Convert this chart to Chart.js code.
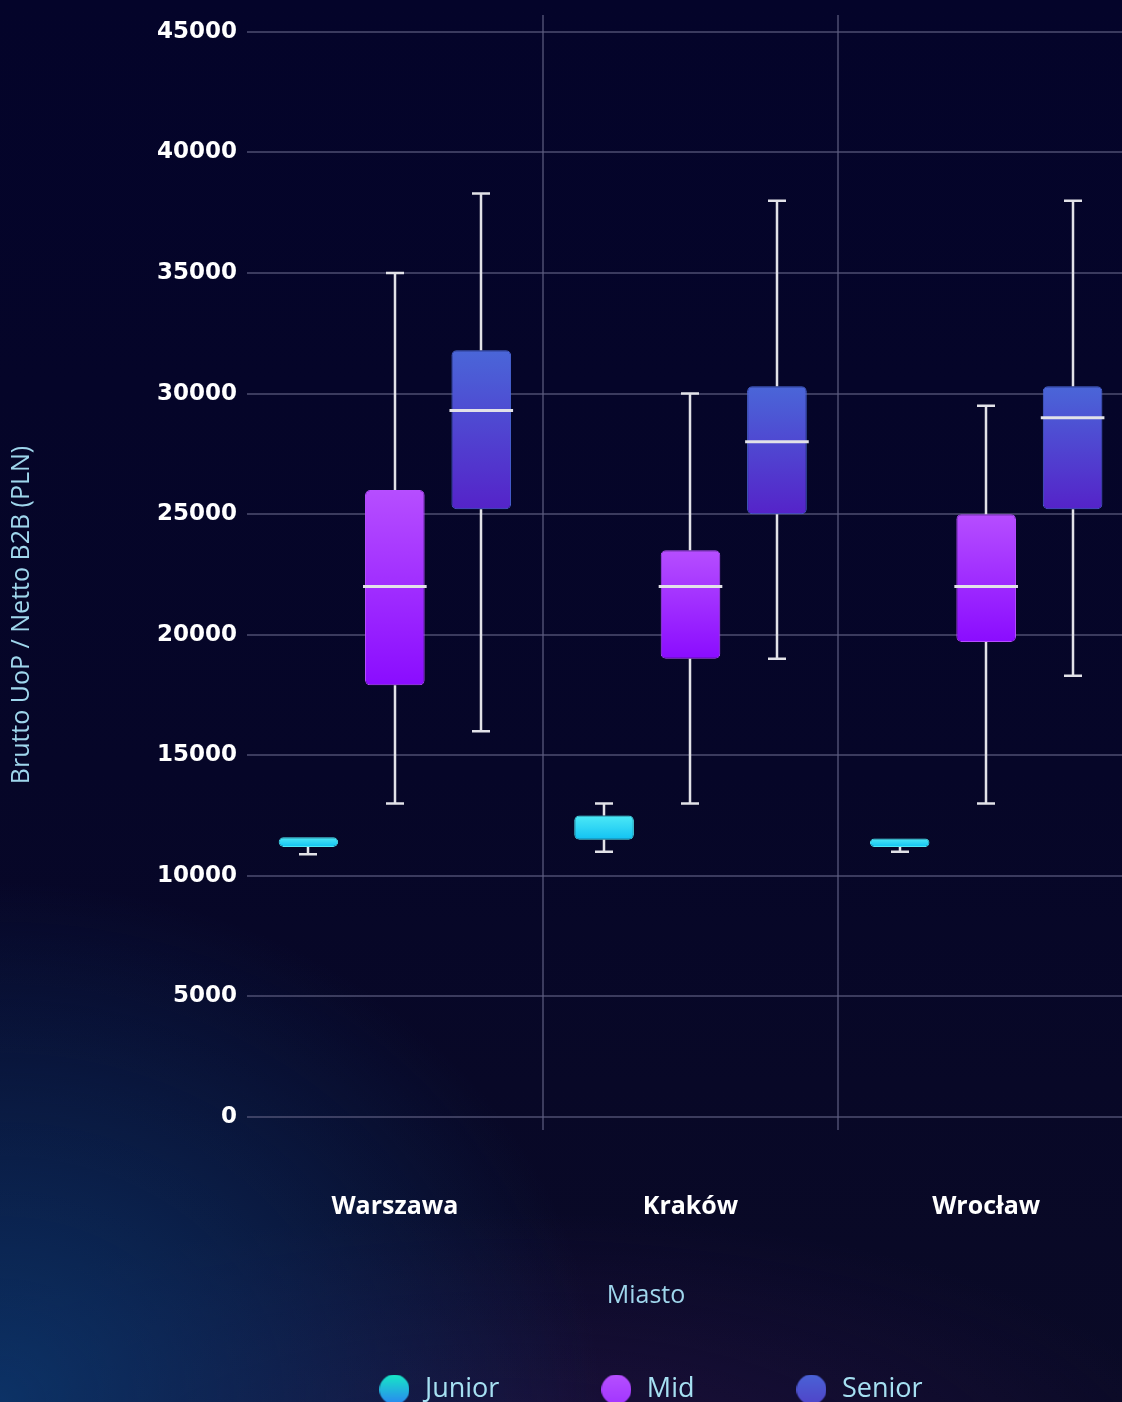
<!DOCTYPE html>
<html lang="pl">
<head>
<meta charset="utf-8">
<title>Wynagrodzenia wg miasta i poziomu</title>
<script src="https://cdn.jsdelivr.net/npm/chart.js@4.4.1/dist/chart.umd.min.js"></script>
<style>
    html, body {
        margin: 0;
        width: 1122px;
        height: 1402px;
        overflow: hidden;
    }
    body {
        background-color: #050526;
        background-image:
            radial-gradient(ellipse 600px 520px at 0% 100%, rgba(12, 52, 105, 0.95), rgba(12, 52, 105, 0) 100%),
            radial-gradient(ellipse 700px 260px at 45% 105%, rgba(45, 22, 80, 0.55), rgba(45, 22, 80, 0) 100%),
            linear-gradient(180deg, #04042a 0%, #060628 55%, #0a0a26 100%);
    }
    #wrap {
        position: absolute;
        left: 0;
        top: 0;
    }
</style>
</head>
<body>
<div id="wrap"><canvas id="salaryChart" width="1140" height="1413"></canvas></div>
<script>
// categories and tick labels
const cities = ['Warszawa', 'Kraków', 'Wrocław'];
const levels = ['Junior', 'Mid', 'Senior'];
const yTickValues = [0, 5000, 10000, 15000, 20000, 25000, 30000, 35000, 40000, 45000];
const yTitle = 'Brutto UoP / Netto B2B (PLN)';
const xTitle = 'Miasto';

// box statistics per level, one value per city
const juniorMin = [10900, 11000, 11000];
const juniorQ1 = [11200, 11500, 11200];
const juniorMedian = [null, null, null];
const juniorQ3 = [11600, 12500, 11550];
const juniorMax = [11600, 13000, 11550];

const midMin = [13000, 13000, 13000];
const midQ1 = [17900, 19000, 19700];
const midMedian = [22000, 22000, 22000];
const midQ3 = [26000, 23500, 25000];
const midMax = [35000, 30000, 29500];

const seniorMin = [16000, 19000, 18300];
const seniorQ1 = [25200, 25000, 25200];
const seniorMedian = [29300, 28000, 29000];
const seniorQ3 = [31800, 30300, 30300];
const seniorMax = [38300, 38000, 38000];

// colours: [top, bottom] of each box gradient
const boxColors = {
    Junior: ['#4de9f6', '#12c2f3'],
    Mid: ['#b64eff', '#8a0cff'],
    Senior: ['#4a66d8', '#5523c9']
};
const legendColors = {
    Junior: ['#17e8c6', '#2a86f2'],
    Mid: ['#b650ff', '#a235ff'],
    Senior: ['#4a62d6', '#5044c9']
};
const whiskerColor = '#e2e2e8';
const titleColor = '#9fd6ec';

function boxFill(context, level) {
    const chart = context.chart;
    const colors = boxColors[level];
    if (!chart.chartArea || !Array.isArray(context.raw)) {
        return colors[0];
    }
    const y = chart.scales.y;
    const top = y.getPixelForValue(context.raw[1]);
    const bottom = y.getPixelForValue(context.raw[0]);
    const g = chart.ctx.createLinearGradient(0, top, 0, bottom);
    g.addColorStop(0, colors[0]);
    g.addColorStop(1, colors[1]);
    return g;
}

function legendDot(level) {
    const c = document.createElement('canvas');
    c.width = 30;
    c.height = 30;
    const cx = c.getContext('2d');
    const g = cx.createLinearGradient(0, 0, 0, 30);
    g.addColorStop(0, legendColors[level][0]);
    g.addColorStop(1, legendColors[level][1]);
    cx.fillStyle = g;
    cx.beginPath();
    cx.arc(15, 15, 15, 0, Math.PI * 2);
    cx.fill();
    return c;
}

function makeDataset(level, mins, q1s, medians, q3s, maxs) {
    return {
        label: level,
        data: q1s.map((q1, i) => [q1, q3s[i]]),
        whiskerMin: mins,
        whiskerMax: maxs,
        medians: medians,
        backgroundColor: ctx => boxFill(ctx, level),
        borderColor: boxColors[level][0],
        borderWidth: 1,
        borderRadius: 5,
        borderSkipped: false,
        categoryPercentage: 0.877,
        barPercentage: 0.69
    };
}

// whiskers and median lines on top of the floating bars
const boxWhiskers = {
    id: 'boxWhiskers',
    afterDatasetsDraw(chart) {
        const {ctx, scales: {y}} = chart;
        ctx.save();
        ctx.strokeStyle = whiskerColor;
        chart.data.datasets.forEach((ds, i) => {
            chart.getDatasetMeta(i).data.forEach((bar, j) => {
                const props = bar.getProps(['x', 'width'], true);
                const x = Math.round(props.x);
                const q1 = y.getPixelForValue(ds.data[j][0]);
                const q3 = y.getPixelForValue(ds.data[j][1]);
                const lo = y.getPixelForValue(ds.whiskerMin[j]);
                const hi = y.getPixelForValue(ds.whiskerMax[j]);
                ctx.lineWidth = 2.5;
                ctx.beginPath();
                if (hi < q3 - 1) {
                    ctx.moveTo(x, q3); ctx.lineTo(x, hi);
                    ctx.moveTo(x - 9, hi); ctx.lineTo(x + 9, hi);
                }
                if (lo > q1 + 1) {
                    ctx.moveTo(x, q1); ctx.lineTo(x, lo);
                    ctx.moveTo(x - 9, lo); ctx.lineTo(x + 9, lo);
                }
                ctx.stroke();
                const med = ds.medians[j];
                if (med !== null) {
                    const my = y.getPixelForValue(med);
                    ctx.lineWidth = 3;
                    ctx.beginPath();
                    ctx.moveTo(props.x - props.width / 2 - 2, my);
                    ctx.lineTo(props.x + props.width / 2 + 2, my);
                    ctx.stroke();
                }
            });
        });
        ctx.restore();
    }
};

// axis titles, placed like in the original layout
const axisTitles = {
    id: 'axisTitles',
    afterDraw(chart) {
        const ctx = chart.ctx;
        ctx.save();
        ctx.fillStyle = titleColor;
        ctx.textAlign = 'center';
        ctx.textBaseline = 'middle';
        ctx.font = '25px "Open Sans", sans-serif';
        ctx.translate(22, 615);
        ctx.rotate(-Math.PI / 2);
        ctx.fillText(yTitle, 0, 0);
        ctx.restore();

        ctx.save();
        ctx.fillStyle = titleColor;
        ctx.textAlign = 'center';
        ctx.textBaseline = 'middle';
        ctx.font = '25px "Open Sans", sans-serif';
        ctx.fillText(xTitle, 646, 1296);
        ctx.restore();
    }
};

// legend sits off-centre in the source picture
const legendShift = {
    id: 'legendShift',
    afterLayout(chart) {
        chart.legend.left += 83;
        chart.legend.right += 83;
    }
};

const ctx = document.getElementById('salaryChart').getContext('2d');
new Chart(ctx, {
    type: 'bar',
    data: {
        labels: cities,
        datasets: [
            makeDataset('Junior', juniorMin, juniorQ1, juniorMedian, juniorQ3, juniorMax),
            makeDataset('Mid', midMin, midQ1, midMedian, midQ3, midMax),
            makeDataset('Senior', seniorMin, seniorQ1, seniorMedian, seniorQ3, seniorMax)
        ]
    },
    options: {
        responsive: false,
        animation: false,
        layout: {
            padding: {top: 15, right: 6, bottom: 0, left: 0}
        },
        plugins: {
            tooltip: {enabled: false},
            legend: {
                position: 'bottom',
                labels: {
                    usePointStyle: true,
                    pointStyleWidth: 34,
                    padding: 100,
                    color: '#a6e0f2',
                    font: {family: '"Open Sans", sans-serif', size: 27},
                    generateLabels: chart => chart.data.datasets.map((ds, i) => ({
                        text: ds.label,
                        pointStyle: legendDot(ds.label),
                        fontColor: '#a6e0f2',
                        lineWidth: 0,
                        strokeStyle: 'transparent',
                        datasetIndex: i,
                        hidden: false
                    }))
                }
            }
        },
        scales: {
            x: {
                grid: {
                    offset: true,
                    drawTicks: false,
                    lineWidth: 2,
                    color: c => c.index === 0 ? 'rgba(0,0,0,0)' : 'rgba(95, 95, 130, 0.6)'
                },
                border: {display: false},
                ticks: {
                    color: '#ffffff',
                    padding: 62,
                    font: {family: '"Open Sans", sans-serif', size: 25, weight: 'bold'}
                },
                afterFit: scale => {
                    scale.height = 146;
                    scale.paddingLeft = 0;
                    scale.paddingRight = 0;
                }
            },
            y: {
                min: -540,
                max: 45700,
                grid: {
                    drawTicks: false,
                    lineWidth: 2,
                    color: 'rgba(95, 95, 130, 0.6)'
                },
                border: {display: false},
                ticks: {
                    color: '#ffffff',
                    padding: 10,
                    font: {family: '"DejaVu Sans", sans-serif', size: 23, weight: 'bold'},
                    callback: value => String(value)
                },
                afterBuildTicks: scale => {
                    scale.ticks = yTickValues.map(v => ({value: v}));
                },
                afterFit: scale => {
                    scale.width = 247;
                    scale.paddingTop = 0;
                    scale.paddingBottom = 0;
                }
            }
        }
    },
    plugins: [boxWhiskers, axisTitles, legendShift]
});
</script>
</body>
</html>
